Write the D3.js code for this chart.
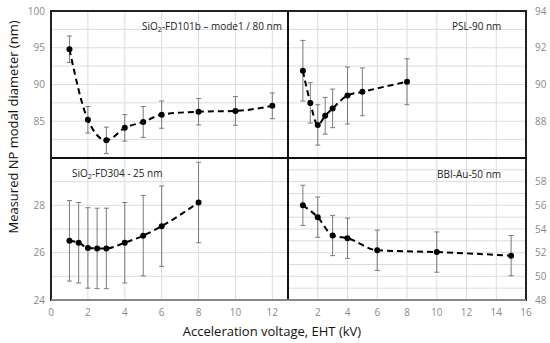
<!DOCTYPE html>
<html>
<head>
<meta charset="utf-8">
<script src="https://cdn.jsdelivr.net/npm/d3@7"></script>
<style>
  body { margin: 0; background: #fff; }
  svg { display: block; font-family: "Open Sans", sans-serif; }
</style>
</head>
<body>
<div id="chart"></div>
<script>
// panel values
var fd101bKv = [1, 2, 3, 4, 5, 6, 8, 10, 12];
var fd101bNm = [94.8, 85.2, 82.4, 84.1, 84.9, 85.9, 86.3, 86.4, 87.1];
var fd101bErr = [1.8, 1.8, 1.8, 1.8, 2.1, 1.85, 1.8, 1.95, 1.75];

var pslKv = [1, 1.5, 2, 2.5, 3, 4, 5, 8];
var pslNm = [90.75, 89.0, 87.8, 88.3, 88.7, 89.4, 89.6, 90.15];
var pslErr = [1.65, 1.1, 1.1, 1.0, 1.05, 1.55, 1.3, 1.25];

var fd304Kv = [1, 1.5, 2, 2.5, 3, 4, 5, 6, 8];
var fd304Nm = [26.5, 26.42, 26.2, 26.18, 26.18, 26.42, 26.72, 27.12, 28.12];
var fd304Err = [1.7, 1.7, 1.7, 1.7, 1.7, 1.7, 1.7, 1.7, 1.7];

var bbiKv = [1, 2, 3, 4, 6, 10, 15];
var bbiNm = [56.0, 55.0, 53.45, 53.22, 52.2, 52.05, 51.75];
var bbiErr = [1.7, 1.7, 1.7, 1.7, 1.7, 1.7, 1.7];

var leftXTicks = [0, 2, 4, 6, 8, 10, 12];
var rightXTicks = [2, 4, 6, 8, 10, 12, 14, 16];

var panels = [
  {name: 'fd101b', label: ['SiO', '2', '-FD101b \u2013 mode1 / 80 nm'], kv: fd101bKv, nm: fd101bNm, err: fd101bErr,
   ydom: [80, 100], ystep: 5, yticks: [85, 90, 95, 100], side: 'left', row: 0, labelAnchor: 'end'},
  {name: 'psl', label: ['PSL-90 nm'], kv: pslKv, nm: pslNm, err: pslErr,
   ydom: [86, 94], ystep: 2, yticks: [88, 90, 92, 94], side: 'right', row: 0, labelAnchor: 'start'},
  {name: 'fd304', label: ['SiO', '2', '-FD304 - 25 nm'], kv: fd304Kv, nm: fd304Nm, err: fd304Err,
   ydom: [24, 30], ystep: 2, yticks: [24, 26, 28], side: 'left', row: 1, labelAnchor: 'start'},
  {name: 'bbi', label: ['BBI-Au-50 nm'], kv: bbiKv, nm: bbiNm, err: bbiErr,
   ydom: [48, 60], ystep: 2, yticks: [48, 50, 52, 54, 56, 58], side: 'right', row: 1, labelAnchor: 'start'}
];

var width = 550, height = 343;
var x0 = 51, xMid = 288, x1 = 526;
var yTop = 11, yMid = 158, yBot = 300;

var svg = d3.select('#chart').append('svg')
  .attr('width', width)
  .attr('height', height);

var xLeft = d3.scaleLinear().domain([0, 12.85]).range([x0, xMid]);
var xRight = d3.scaleLinear().domain([0, 16]).range([xMid, x1]);

var labelPos = {
  fd101b: [282, 30],
  psl: [452, 30],
  fd304: [72, 177],
  bbi: [437, 178]
};

panels.forEach(function (p) {
  var x = p.side === 'left' ? xLeft : xRight;
  var top = p.row === 0 ? yTop : yMid;
  var bot = p.row === 0 ? yMid : yBot;
  var left = p.side === 'left' ? x0 : xMid;
  var right = p.side === 'left' ? xMid : x1;
  var y = d3.scaleLinear().domain(p.ydom).range([bot, top]);
  var g = svg.append('g').attr('class', p.name);

  // horizontal grid every half step
  var hGrid = d3.range(p.ydom[0] + p.ystep / 2, p.ydom[1], p.ystep / 2);
  g.selectAll('line.hgrid').data(hGrid).enter().append('line')
    .attr('class', 'hgrid')
    .attr('x1', left).attr('x2', right)
    .attr('y1', function (d) { return y(d); })
    .attr('y2', function (d) { return y(d); })
    .attr('stroke', '#dcdcdc').attr('stroke-width', 1);

  var vGrid = d3.range(2, x.domain()[1], 2);
  g.selectAll('line.vgrid').data(vGrid).enter().append('line')
    .attr('class', 'vgrid')
    .attr('y1', top).attr('y2', bot)
    .attr('x1', function (d) { return x(d); })
    .attr('x2', function (d) { return x(d); })
    .attr('stroke', '#dcdcdc').attr('stroke-width', 1);

  // y tick labels
  g.selectAll('text.ytick').data(p.yticks).enter().append('text')
    .attr('class', 'ytick')
    .attr('x', p.side === 'left' ? 45 : 535)
    .attr('y', function (d) { return y(d); })
    .attr('dy', '0.35em')
    .attr('text-anchor', p.side === 'left' ? 'end' : 'start')
    .attr('font-size', 10)
    .attr('fill', '#8a8a8a')
    .text(function (d) { return d; });

  // error bars
  var idx = d3.range(p.kv.length);
  var eb = g.selectAll('g.err').data(idx).enter().append('g').attr('class', 'err')
    .attr('stroke', '#7a7a7a').attr('stroke-width', 1);
  eb.append('line')
    .attr('x1', function (i) { return x(p.kv[i]); })
    .attr('x2', function (i) { return x(p.kv[i]); })
    .attr('y1', function (i) { return y(p.nm[i] - p.err[i]); })
    .attr('y2', function (i) { return y(p.nm[i] + p.err[i]); });
  [-1, 1].forEach(function (s) {
    eb.append('line')
      .attr('x1', function (i) { return x(p.kv[i]) - 2.5; })
      .attr('x2', function (i) { return x(p.kv[i]) + 2.5; })
      .attr('y1', function (i) { return y(p.nm[i] + s * p.err[i]); })
      .attr('y2', function (i) { return y(p.nm[i] + s * p.err[i]); });
  });

  // dashed smooth line
  var line = d3.line()
    .x(function (i) { return x(p.kv[i]); })
    .y(function (i) { return y(p.nm[i]); })
    .curve(d3.curveMonotoneX);
  g.append('path')
    .datum(idx)
    .attr('d', line)
    .attr('fill', 'none')
    .attr('stroke', '#000')
    .attr('stroke-width', 2)
    .attr('stroke-dasharray', '6,4');

  g.selectAll('circle').data(idx).enter().append('circle')
    .attr('cx', function (i) { return x(p.kv[i]); })
    .attr('cy', function (i) { return y(p.nm[i]); })
    .attr('r', 3)
    .attr('fill', '#000');

  // panel label
  var lp = labelPos[p.name];
  var t = g.append('text')
    .attr('x', lp[0]).attr('y', lp[1])
    .attr('text-anchor', p.labelAnchor)
    .attr('font-size', 10)
    .attr('fill', '#222');
  if (p.label.length === 3) {
    t.append('tspan').text(p.label[0]);
    t.append('tspan').attr('font-size', 7).attr('dy', 2).text(p.label[1]);
    t.append('tspan').attr('dy', -2).text(p.label[2]);
  } else {
    t.text(p.label[0]);
  }
});

// x tick labels
svg.selectAll('text.xl').data(leftXTicks).enter().append('text')
  .attr('class', 'xl')
  .attr('x', function (d) { return xLeft(d); })
  .attr('y', 316)
  .attr('text-anchor', 'middle')
  .attr('font-size', 10).attr('fill', '#8a8a8a')
  .text(function (d) { return d; });
svg.selectAll('text.xr').data(rightXTicks).enter().append('text')
  .attr('class', 'xr')
  .attr('x', function (d) { return xRight(d); })
  .attr('y', 316)
  .attr('text-anchor', 'middle')
  .attr('font-size', 10).attr('fill', '#8a8a8a')
  .text(function (d) { return d; });

// frames
var frame = svg.append('g').attr('fill', 'none');
frame.append('rect').attr('x', x0).attr('y', yTop).attr('width', x1 - x0).attr('height', yBot - yTop)
  .attr('stroke', '#222').attr('stroke-width', 2);
frame.append('line').attr('x1', x0).attr('x2', x1).attr('y1', yMid).attr('y2', yMid)
  .attr('stroke', '#111').attr('stroke-width', 2);
frame.append('line').attr('x1', xMid).attr('x2', xMid).attr('y1', yTop).attr('y2', yBot)
  .attr('stroke', '#111').attr('stroke-width', 2);
frame.append('line').attr('x1', x0).attr('x2', x1).attr('y1', yBot).attr('y2', yBot)
  .attr('stroke', '#888').attr('stroke-width', 2);

// axis titles
svg.append('text')
  .attr('transform', 'translate(18,127) rotate(-90)')
  .attr('text-anchor', 'middle')
  .attr('font-size', 13)
  .attr('fill', '#111')
  .text('Measured NP modal diameter (nm)');
svg.append('text')
  .attr('x', 272).attr('y', 336)
  .attr('text-anchor', 'middle')
  .attr('font-size', 13)
  .attr('fill', '#111')
  .text('Acceleration voltage, EHT (kV)');
</script>
</body>
</html>
